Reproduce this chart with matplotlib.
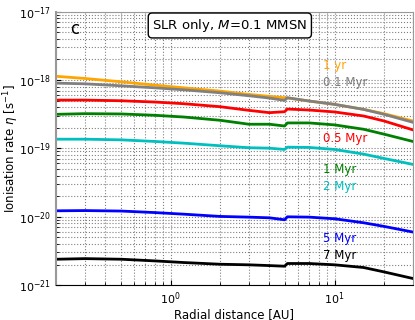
"""
Ionisation rate vs radial distance (SLR only, M = 0.1 MMSN), panel c.
"""

import matplotlib
matplotlib.use("Agg")
import matplotlib.pyplot as plt

plt.rcParams["axes.unicode_minus"] = False
plt.rcParams["font.family"] = "DejaVu Sans"

# Radial distance [AU]
r_au = [0.2, 0.3, 0.5, 0.8, 1.2, 2.0, 3.0, 4.0, 4.95, 5.15, 7.0, 10.0, 15.0, 20.0, 30.0]

# Ionisation rate [s^-1] for each disc age
eta_1yr = [1.13e-18, 1.05e-18, 9.38e-19, 8.39e-19, 7.67e-19, 6.86e-19, 6.14e-19, 5.74e-19,
           5.49e-19, 5.45e-19, 4.91e-19, 4.39e-19, 3.71e-19, 3.21e-19, 2.51e-19]
eta_01myr = [8.97e-19, 8.77e-19, 8.20e-19, 7.67e-19, 7.17e-19, 6.49e-19, 5.87e-19, 5.43e-19,
             5.02e-19, 5.49e-19, 4.91e-19, 4.39e-19, 3.71e-19, 3.14e-19, 2.40e-19]
eta_05myr = [5.07e-19, 5.07e-19, 4.96e-19, 4.75e-19, 4.49e-19, 4.06e-19, 3.59e-19, 3.32e-19,
             3.43e-19, 3.75e-19, 3.63e-19, 3.40e-19, 2.97e-19, 2.51e-19, 1.86e-19]
eta_1myr = [3.14e-19, 3.21e-19, 3.18e-19, 3.04e-19, 2.87e-19, 2.57e-19, 2.25e-19, 2.25e-19,
            2.12e-19, 2.35e-19, 2.35e-19, 2.20e-19, 1.90e-19, 1.61e-19, 1.26e-19]
eta_2myr = [1.36e-19, 1.36e-19, 1.33e-19, 1.26e-19, 1.19e-19, 1.09e-19, 1.02e-19, 1.005e-19,
            9.62e-20, 1.04e-19, 1.03e-19, 9.62e-20, 8.23e-20, 7.11e-20, 5.82e-20]
eta_5myr = [1.22e-20, 1.23e-20, 1.21e-20, 1.15e-20, 1.09e-20, 1.01e-20, 9.86e-21, 9.64e-21,
            9.02e-21, 9.97e-21, 9.86e-21, 9.33e-21, 8.16e-21, 7.22e-21, 5.97e-21]
eta_7myr = [2.39e-21, 2.44e-21, 2.39e-21, 2.26e-21, 2.14e-21, 2.02e-21, 1.98e-21, 1.93e-21,
            1.89e-21, 2.07e-21, 2.07e-21, 1.98e-21, 1.81e-21, 1.56e-21, 1.25e-21]

y_ticks = [1e-21, 1e-20, 1e-19, 1e-18, 1e-17]
x_ticks = [1, 10]

series = [
    ("1 yr", eta_1yr, "orange", 0.804),
    ("0.1 Myr", eta_01myr, "gray", 0.742),
    ("0.5 Myr", eta_05myr, "r", 0.537),
    ("1 Myr", eta_1myr, "g", 0.424),
    ("2 Myr", eta_2myr, "c", 0.360),
    ("5 Myr", eta_5myr, "b", 0.172),
    ("7 Myr", eta_7myr, "k", 0.109),
]

fig = plt.figure(figsize=(4.15, 3.2), dpi=100)
ax = fig.add_axes([0.135, 0.109, 0.86, 0.855])

for label, eta, col, ytxt in series:
    ax.plot(r_au, eta, color=col, lw=2)
    ax.text(0.747, ytxt, label, color=col, fontsize=8.5,
            transform=ax.transAxes, va="center", ha="left")

ax.set_xscale("log")
ax.set_yscale("log")
ax.set_xlim(0.2, 30)
ax.set_ylim(1e-21, 1e-17)
ax.set_yticks(y_ticks)
ax.set_xticks(x_ticks)
ax.grid(True, which="both", ls=":", color="gray", lw=0.8)
ax.tick_params(which="both", direction="in", labelsize=8)

ax.set_xlabel("Radial distance [AU]", fontsize=8.5, labelpad=1)
ax.set_ylabel(r"Ionisation rate $\eta$ [s$^{-1}$]", fontsize=8.5)
ax.yaxis.set_label_coords(-0.098, 0.5)

for side in ("left", "top", "right"):
    ax.spines[side].set_color("#999999")
ax.spines["left"].set_linewidth(1.5)

ax.text(0.04, 0.935, "c", fontsize=12, transform=ax.transAxes,
        va="center", ha="left")
ax.text(0.487, 0.949, r"SLR only, $M$=0.1 MMSN", fontsize=9.5,
        transform=ax.transAxes, va="center", ha="center",
        bbox=dict(boxstyle="round,pad=0.3", fc="white", ec="k"))

fig.savefig("out.png", dpi=100)
